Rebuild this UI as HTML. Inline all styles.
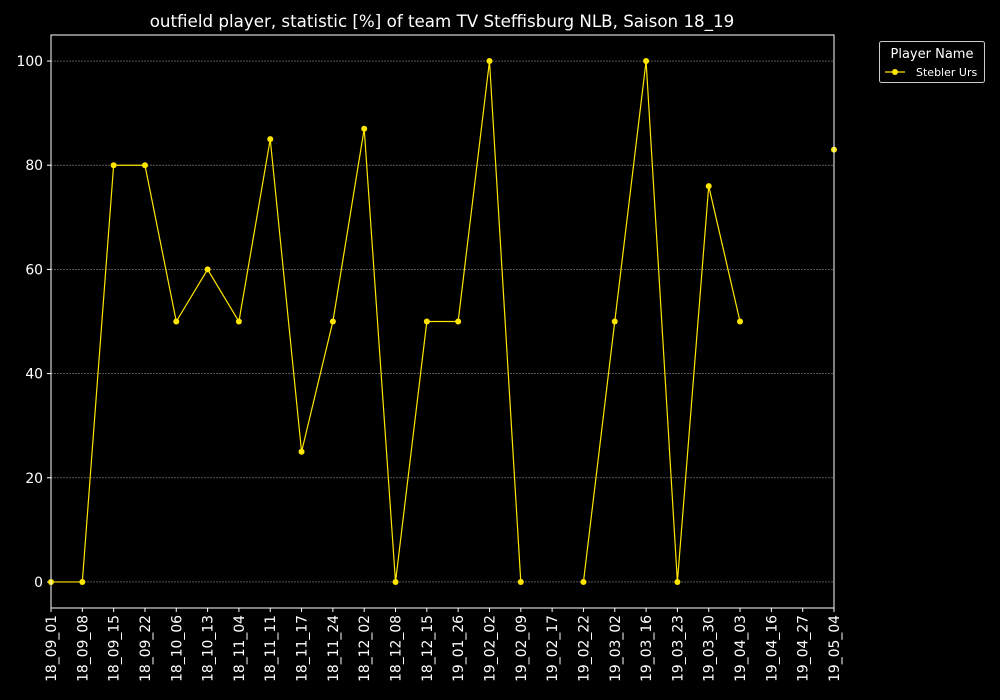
<!DOCTYPE html>
<html><head><meta charset="utf-8"><style>
body{margin:0;background:#000;}
svg{display:block;font-family:"DejaVu Sans","Liberation Sans",sans-serif;}
</style></head><body>
<svg id="chart" width="1000" height="700" xmlns="http://www.w3.org/2000/svg">
<rect width="1000" height="700" fill="#000"/>
<text x="442" y="27" fill="#fff" font-size="16.7" text-anchor="middle">outfield player, statistic [%] of team TV Steffisburg NLB, Saison 18_19</text>
<g id="grid"></g>
<g id="axes"></g>
<g id="series"></g>
<rect x="51" y="35" width="783" height="573" fill="none" stroke="#fff" stroke-width="1"/>
<g>
<rect x="879.5" y="41.5" width="105" height="41" rx="2" fill="#000" stroke="#ccc"/>
<text x="932" y="58" fill="#fff" font-size="13" text-anchor="middle">Player Name</text>
<line x1="885" y1="72" x2="905" y2="72" stroke="#ffe600" stroke-width="1.2"/>
<circle cx="895" cy="72" r="3" fill="#ffe600"/>
<text x="916" y="76" fill="#fff" font-size="11">Stebler Urs</text>
</g>
</svg>
<script>
const categories=["18_09_01","18_09_08","18_09_15","18_09_22","18_10_06","18_10_13","18_11_04","18_11_11","18_11_17","18_11_24","18_12_02","18_12_08","18_12_15","19_01_26","19_02_02","19_02_09","19_02_17","19_02_22","19_03_02","19_03_16","19_03_23","19_03_30","19_04_03","19_04_16","19_04_27","19_05_04"];
const values=[0,0,80,80,50,60,50,85,25,50,87,0,50,50,100,0,null,0,50,100,0,76,50,null,null,83];
const yTicks=[0,20,40,60,80,100];
const NS="http://www.w3.org/2000/svg";
const X0=51,X1=834,Y0=608,Y1=35,YMIN=-5,YMAX=105;
const x=i=>X0+(X1-X0)*i/(categories.length-1);
const y=v=>Y0-(v-YMIN)/(YMAX-YMIN)*(Y0-Y1);
function mk(tag,attrs,parent){const e=document.createElementNS(NS,tag);for(const k in attrs)e.setAttribute(k,attrs[k]);parent.appendChild(e);return e;}
const grid=document.getElementById('grid'),axes=document.getElementById('axes'),series=document.getElementById('series');
yTicks.forEach(t=>{
 const g=mk('line',{x1:X0,x2:X1,y1:y(t),y2:y(t),stroke:'#888','stroke-width':0.6,'stroke-dasharray':'2,1'},grid);
 
 
 mk('line',{x1:X0-4,x2:X0,y1:y(t),y2:y(t),stroke:'#fff'},axes);
 const tx=mk('text',{x:X0-8,y:y(t)+5,fill:'#fff','font-size':13.9,'text-anchor':'end'},axes);
 tx.textContent=t;
 
 
});
categories.forEach((c,i)=>{
 mk('line',{x1:x(i),x2:x(i),y1:Y0,y2:Y0+4,stroke:'#fff'},axes);
 const tx=mk('text',{x:0,y:0,fill:'#fff','font-size':13.9,'text-anchor':'end',transform:`translate(${x(i)+5},${Y0+7}) rotate(-90)`},axes);
 tx.textContent=c;
 
 
});
let seg=[];
const segs=[];
values.forEach((v,i)=>{if(v===null){if(seg.length)segs.push(seg);seg=[];}else seg.push([x(i),y(v)]);});
if(seg.length)segs.push(seg);
segs.forEach(s=>{
 if(s.length>1){const p=mk('polyline',{points:s.map(q=>q.join(',')).join(' '),fill:'none',stroke:'#ffe600','stroke-width':1.2},series);
 
 }
});
values.forEach((v,i)=>{if(v===null)return;
 const c=mk('circle',{cx:x(i),cy:y(v),r:3,fill:'#ffe600'},series);
 
 
});
</script>
</body></html>
